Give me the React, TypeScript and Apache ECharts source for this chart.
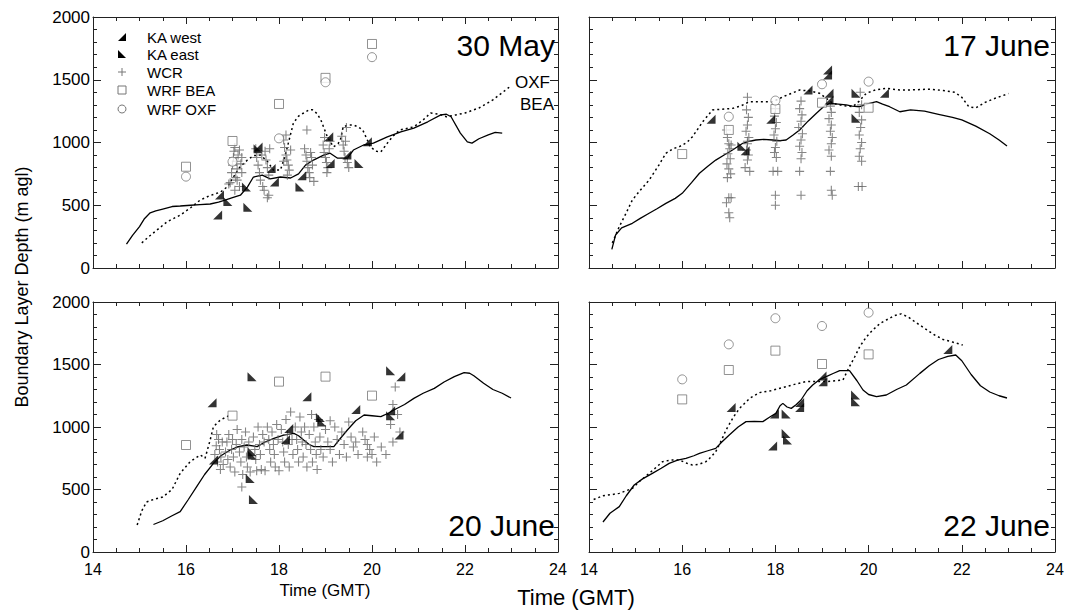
import React, { useEffect, useRef } from "react";
import * as echarts from "echarts";

const FONT = "'Liberation Sans', Arial, sans-serif";

// ---------- tick labels ----------
const xTicks = [14, 16, 18, 20, 22, 24];
const yTicks = [0, 500, 1000, 1500, 2000];
const panelTitles = ["30 May", "17 June", "20 June", "22 June"];

// ---------- 30 May ----------
const mayBEA = [[14.72,190],[14.85,260],[15.0,330],[15.1,390],[15.23,440],[15.35,455],[15.5,470],[15.7,490],[15.875,494],[16.1,500],[16.3,505],[16.52,510],[16.7,525],[16.84,540],[17.0,560],[17.17,580],[17.32,645],[17.45,725],[17.64,740],[17.81,710],[18.03,725],[18.25,717],[18.42,750],[18.57,820],[18.74,860],[18.96,900],[19.1,915],[19.26,875],[19.47,875],[19.6,940],[19.82,980],[20.03,995],[20.33,1045],[20.62,1085],[20.9,1115],[21.2,1165],[21.48,1220],[21.6,1225],[21.7,1205],[21.9,1075],[22.05,1005],[22.15,995],[22.3,1030],[22.5,1060],[22.65,1080],[22.8,1075]];
const mayOXF = [[15.05,200],[15.2,250],[15.4,310],[15.6,370],[15.87,420],[16.1,480],[16.3,540],[16.5,575],[16.74,605],[16.9,650],[17.02,725],[17.15,800],[17.32,860],[17.45,895],[17.6,900],[17.75,850],[17.88,780],[18.03,780],[18.12,880],[18.18,965],[18.31,1155],[18.42,1210],[18.53,1235],[18.65,1260],[18.72,1260],[18.82,1230],[18.9,1180],[19.04,1045],[19.17,965],[19.27,990],[19.32,1020],[19.38,1125],[19.5,1140],[19.6,1140],[19.7,1125],[19.8,1100],[19.9,1020],[19.96,965],[20.1,930],[20.19,925],[20.33,995],[20.45,1050],[20.6,1100],[20.9,1125],[21.1,1180],[21.26,1235],[21.45,1225],[21.6,1205],[21.8,1220],[22.0,1235],[22.3,1275],[22.6,1340],[22.95,1440]];
const mayKAWest = [[16.68,422],[16.72,582],[17.55,964],[17.83,792],[17.9,685],[18.49,735],[19.07,1045],[19.1,833],[19.46,900],[19.9,1005]];
const mayKAEast = [[16.9,530],[17.33,484],[17.3,645],[17.55,950],[18.45,645],[19.72,833]];
const mayWCR = [[16.95,680],[16.98,760],[17.0,820],[17.02,880],[17.03,930],[17.05,960],[17.07,720],[17.08,850],[17.1,790],[17.12,900],[17.15,940],[17.15,650],[17.18,830],[17.2,880],[17.2,760],[17.05,620],[16.92,670],[17.1,700],[17.5,950],[17.52,880],[17.55,820],[17.58,760],[17.6,700],[17.63,900],[17.65,650],[17.7,930],[17.72,860],[17.75,800],[17.78,740],[17.8,950],[17.78,580],[17.75,560],[17.68,620],[18.1,1020],[18.12,960],[18.15,900],[18.17,860],[18.2,820],[18.22,780],[18.15,1060],[18.25,940],[18.18,740],[18.1,850],[18.55,950],[18.58,900],[18.6,850],[18.62,800],[18.65,760],[18.68,920],[18.7,880],[18.72,820],[18.6,1100],[18.75,690],[18.66,720],[18.95,980],[18.97,920],[19.0,880],[19.02,840],[19.05,800],[19.08,950],[19.1,1010],[19.03,760],[18.98,1040],[19.35,1050],[19.38,980],[19.4,930],[19.42,880],[19.45,1120],[19.47,840],[19.5,800],[19.43,1010]];
const mayWrfBEA = [[16,807],[17,1012],[18,1307],[19,1515],[20,1785]];
const mayWrfOXF = [[16,728],[17,847],[18,1033],[19,1480],[20,1680]];

// ---------- 17 June ----------
const j17BEA = [[14.49,149],[14.57,263],[14.7,320],[14.93,356],[15.1,395],[15.29,436],[15.45,470],[15.65,515],[15.85,555],[16.0,595],[16.2,680],[16.37,755],[16.55,810],[16.72,860],[16.9,900],[17.08,940],[17.3,994],[17.45,1010],[17.58,1020],[17.75,1025],[17.94,1020],[18.1,1015],[18.23,1020],[18.38,1060],[18.52,1100],[18.7,1170],[18.88,1233],[19.05,1290],[19.16,1312],[19.35,1305],[19.52,1299],[19.65,1290],[19.81,1285],[20.0,1310],[20.17,1325],[20.3,1305],[20.45,1285],[20.67,1245],[20.9,1260],[21.2,1250],[21.5,1225],[21.8,1200],[22.0,1180],[22.3,1130],[22.6,1070],[22.8,1020],[22.97,972]];
const j17OXF = [[14.5,200],[14.65,330],[14.8,440],[14.93,542],[15.1,620],[15.29,701],[15.5,820],[15.65,914],[15.8,950],[15.94,967],[16.1,1000],[16.22,1046],[16.45,1170],[16.65,1259],[16.85,1265],[17.08,1272],[17.25,1290],[17.44,1325],[17.7,1325],[17.94,1325],[18.2,1370],[18.52,1418],[18.75,1410],[18.95,1392],[19.1,1350],[19.23,1312],[19.45,1295],[19.66,1285],[19.8,1330],[19.95,1392],[20.15,1420],[20.38,1432],[20.67,1418],[21.0,1420],[21.3,1425],[21.6,1415],[21.85,1400],[22.0,1360],[22.15,1285],[22.3,1275],[22.5,1320],[22.7,1350],[23.0,1390]];
const j17KAWest = [[16.62,1185],[17.35,935],[17.9,1185],[18.7,1418],[19.12,1578],[19.12,1538],[19.15,1392],[19.15,1339],[20.34,1392]];
const j17KAEast = [[17.28,970],[19.73,1392],[19.73,1193]];
const j17WCR = [[16.95,1100],[16.97,1040],[17.0,990],[17.02,950],[16.98,910],[17.03,870],[16.96,830],[17.0,790],[17.04,750],[16.97,720],[17.0,560],[16.95,520],[17.05,560],[17.0,440],[17.02,400],[17.05,980],[17.4,1360],[17.38,1260],[17.42,1200],[17.4,1140],[17.37,1090],[17.43,1040],[17.4,990],[17.38,940],[17.42,900],[17.4,860],[17.35,800],[17.45,770],[17.4,1010],[18.0,1270],[17.98,1210],[18.02,1160],[18.0,1110],[17.97,1060],[18.03,1010],[18.0,960],[17.98,920],[18.02,880],[17.95,770],[18.05,770],[18.0,580],[18.0,500],[18.55,1330],[18.52,1270],[18.57,1220],[18.55,1170],[18.5,1120],[18.58,1070],[18.55,1020],[18.52,970],[18.57,920],[18.55,870],[18.52,770],[18.55,580],[19.18,1290],[19.2,1240],[19.15,1190],[19.2,1140],[19.18,1090],[19.22,1040],[19.2,990],[19.15,940],[19.2,890],[19.18,770],[19.2,620],[19.22,580],[19.82,1400],[19.85,1300],[19.8,1240],[19.85,1180],[19.83,1120],[19.8,1060],[19.85,1000],[19.82,950],[19.8,890],[19.85,850],[19.78,650],[19.86,650]];
const j17WrfBEA = [[16,908],[17,1100],[18,1267],[19,1317],[20,1277]];
const j17WrfOXF = [[17,1206],[18,1334],[19,1464],[20,1485]];

// ---------- 20 June ----------
const j20BEA = [[15.3,220],[15.5,250],[15.7,290],[15.875,323],[16.05,420],[16.23,523],[16.4,620],[16.59,709],[16.75,770],[16.95,816],[17.1,840],[17.31,856],[17.53,843],[17.7,880],[17.89,909],[18.1,935],[18.32,949],[18.42,930],[18.53,896],[18.65,860],[18.75,843],[19.0,843],[19.18,843],[19.3,900],[19.47,976],[19.65,1050],[19.83,1096],[20.0,1090],[20.19,1083],[20.35,1110],[20.47,1136],[20.7,1180],[20.9,1229],[21.1,1270],[21.34,1309],[21.55,1360],[21.77,1403],[21.98,1435],[22.1,1430],[22.19,1410],[22.4,1350],[22.6,1300],[22.8,1270],[22.99,1232]];
const j20OXF = [[14.95,216],[15.05,330],[15.15,400],[15.3,420],[15.5,440],[15.7,500],[15.875,630],[16.09,723],[16.31,776],[16.41,750],[16.52,896],[16.59,1003],[16.74,1056],[16.95,1096]];
const j20KAWest = [[16.56,1195],[18.6,1243],[19.65,1141],[20.62,1403],[20.4,1131],[20.58,936],[18.21,989],[18.14,900],[16.59,736]];
const j20KAEast = [[17.42,1403],[20.4,1451],[20.4,1090],[18.89,1077],[18.92,1040],[17.42,803],[17.42,776],[17.38,589],[17.45,421]];
const j20WCR = [[16.62,780],[16.65,850],[16.68,720],[16.7,900],[16.72,820],[16.75,760],[16.78,880],[16.8,700],[16.66,940],[16.74,660],[16.85,800],[16.88,880],[16.9,740],[16.92,940],[16.95,680],[16.98,820],[17.0,900],[17.02,760],[17.05,640],[17.08,860],[17.1,980],[17.15,800],[17.18,720],[17.2,900],[17.22,620],[17.25,840],[17.28,960],[17.3,760],[17.32,680],[17.35,880],[17.38,640],[17.2,520],[17.45,920],[17.48,820],[17.5,740],[17.52,650],[17.55,1000],[17.58,860],[17.6,780],[17.62,660],[17.65,940],[17.68,880],[17.7,650],[17.75,1000],[17.78,900],[17.8,820],[17.82,720],[17.85,960],[17.88,860],[17.9,780],[17.92,680],[17.95,1020],[17.98,900],[18.0,650],[18.05,980],[18.08,880],[18.1,800],[18.12,720],[18.15,1060],[18.18,940],[18.2,860],[18.22,680],[18.25,1120],[18.28,900],[18.3,780],[18.35,1000],[18.38,900],[18.4,820],[18.42,720],[18.45,1080],[18.48,960],[18.5,880],[18.52,760],[18.55,1000],[18.58,860],[18.6,680],[18.65,940],[18.68,820],[18.7,1100],[18.72,720],[18.75,1000],[18.78,880],[18.8,780],[18.82,660],[18.85,1060],[18.88,920],[18.9,820],[18.95,760],[19.0,980],[19.05,880],[19.1,820],[19.15,720],[19.2,1000],[19.25,900],[19.3,780],[19.1,1050],[19.35,960],[19.4,860],[19.45,760],[19.5,1040],[19.55,920],[19.6,840],[19.65,880],[19.7,780],[19.8,960],[19.85,900],[19.9,860],[19.95,820],[20.0,780],[20.05,920],[19.9,760],[20.1,720],[20.2,840],[20.3,780],[20.4,1020],[20.45,1180],[20.5,1320],[20.55,1100],[20.6,960],[20.45,880]];
const j20WrfBEA = [[16,856],[17,1091],[18,1363],[19,1403],[20,1251]];
const j20WrfOXF: number[][] = [];

// ---------- 22 June ----------
const j22BEA = [[14.3,240],[14.45,310],[14.65,363],[14.8,450],[14.97,536],[15.15,585],[15.36,629],[15.55,670],[15.72,709],[15.9,735],[16.08,749],[16.25,770],[16.37,789],[16.55,810],[16.72,829],[16.85,880],[17.01,936],[17.2,1000],[17.37,1043],[17.55,1045],[17.73,1043],[17.88,1080],[18.01,1109],[18.1,1170],[18.16,1189],[18.25,1160],[18.34,1149],[18.45,1180],[18.55,1216],[18.68,1290],[18.8,1336],[18.95,1380],[19.09,1403],[19.25,1430],[19.38,1451],[19.59,1451],[19.75,1370],[19.88,1296],[20.0,1260],[20.17,1243],[20.38,1256],[20.6,1300],[20.81,1336],[21.1,1429],[21.3,1490],[21.5,1540],[21.7,1565],[21.87,1576],[22.0,1530],[22.2,1420],[22.4,1330],[22.6,1280],[22.8,1250],[22.97,1232]];
const j22OXF = [[14.1,420],[14.3,450],[14.5,460],[14.65,469],[14.93,509],[15.1,570],[15.29,629],[15.45,680],[15.58,723],[15.75,735],[15.94,736],[16.1,710],[16.22,696],[16.35,700],[16.51,723],[16.62,760],[16.72,803],[16.85,900],[16.94,976],[17.1,1080],[17.23,1149],[17.45,1230],[17.66,1275],[17.9,1290],[18.23,1323],[18.45,1345],[18.66,1363],[18.85,1365],[19.09,1363],[19.3,1370],[19.45,1376],[19.52,1430],[19.59,1483],[19.7,1560],[19.81,1643],[19.95,1720],[20.09,1776],[20.25,1830],[20.38,1856],[20.55,1890],[20.7,1905],[20.85,1880],[21.0,1840],[21.2,1790],[21.4,1740],[21.6,1700],[21.8,1680],[22.02,1656]];
const j22KAWest = [[17.05,1157],[17.94,848],[17.98,1104],[18.52,1157],[18.52,1197],[19.0,1408],[19.02,1363],[21.7,1620]];
const j22KAEast = [[18.23,1104],[18.23,949],[18.26,896],[19.72,1256],[19.72,1203]];
const j22WCR: number[][] = [];
const j22WrfBEA = [[16,1221],[17,1456],[18,1611],[19,1504],[20,1581]];
const j22WrfOXF = [[16,1381],[17,1661],[18,1870],[19,1808],[20,1915]];

const panels = [
  { bea: mayBEA, oxf: mayOXF, kaw: mayKAWest, kae: mayKAEast, wcr: mayWCR, wb: mayWrfBEA, wo: mayWrfOXF },
  { bea: j17BEA, oxf: j17OXF, kaw: j17KAWest, kae: j17KAEast, wcr: j17WCR, wb: j17WrfBEA, wo: j17WrfOXF },
  { bea: j20BEA, oxf: j20OXF, kaw: j20KAWest, kae: j20KAEast, wcr: j20WCR, wb: j20WrfBEA, wo: j20WrfOXF },
  { bea: j22BEA, oxf: j22OXF, kaw: j22KAWest, kae: j22KAEast, wcr: j22WCR, wb: j22WrfBEA, wo: j22WrfOXF },
];

const grids = [
  { left: 93, top: 17, width: 465, height: 251 },
  { left: 589, top: 17, width: 466, height: 251 },
  { left: 93, top: 302, width: 465, height: 250 },
  { left: 589, top: 302, width: 466, height: 250 },
];

const AX = "#222";
const WEST = "path://M10,0L10,10L0,10Z";
const EAST = "path://M0,0L0,10L10,10Z";
const PLUS = "path://M4.4,0H5.6V4.4H10V5.6H5.6V10H4.4V5.6H0V4.4H4.4Z";

function buildOption() {
  const xAxis: any[] = [];
  const yAxis: any[] = [];
  const series: any[] = [];
  grids.forEach((g, i) => {
    ["bottom", "top"].forEach((pos) => {
      xAxis.push({
        type: "value", gridIndex: i, position: pos,
        min: xTicks[0], max: xTicks[xTicks.length - 1], interval: xTicks[1] - xTicks[0],
        axisLine: { show: true, onZero: false, lineStyle: { color: AX, width: 1 } },
        axisTick: { show: true, inside: true, length: 7, lineStyle: { color: AX } },
        minorTick: { show: true, splitNumber: 4, length: 4, lineStyle: { color: AX } },
        splitLine: { show: false },
        axisLabel: { show: pos === "bottom" && i >= 2, fontSize: 16, color: "#000", margin: 9, fontFamily: FONT,
          formatter: (v: number) => String(v) },
      });
    });
    ["left", "right"].forEach((pos) => {
      yAxis.push({
        type: "value", gridIndex: i, position: pos,
        min: yTicks[0], max: yTicks[yTicks.length - 1], interval: yTicks[1] - yTicks[0],
        axisLine: { show: true, onZero: false, lineStyle: { color: AX, width: 1 } },
        axisTick: { show: true, inside: true, length: 8, lineStyle: { color: AX } },
        minorTick: { show: true, splitNumber: 5, length: 4, lineStyle: { color: AX } },
        splitLine: { show: false },
        axisLabel: { show: pos === "left" && i % 2 === 0, fontSize: 17, color: "#000", margin: 3, fontFamily: FONT,
          formatter: (v: number) => String(v) },
      });
    });
    const p = panels[i];
    const ax = { xAxisIndex: 2 * i, yAxisIndex: 2 * i };
    series.push({ ...ax, type: "line", name: "BEA", data: p.bea, showSymbol: false, z: 2,
      lineStyle: { color: "#000", width: 1.3 } });
    series.push({ ...ax, type: "line", name: "OXF", data: p.oxf, showSymbol: false, z: 2,
      lineStyle: { color: "#000", width: 1.5, type: [2, 3] } });
    series.push({ ...ax, type: "scatter", name: "WCR", data: p.wcr, symbol: PLUS, symbolSize: 9, z: 3,
      itemStyle: { color: "#666" } });
    series.push({ ...ax, type: "scatter", name: "WRF BEA", data: p.wb, symbol: "rect", symbolSize: 9, z: 4,
      itemStyle: { color: "#fff", borderColor: "#777", borderWidth: 1 } });
    series.push({ ...ax, type: "scatter", name: "WRF OXF", data: p.wo, symbol: "circle", symbolSize: 9, z: 4,
      itemStyle: { color: "#fff", borderColor: "#777", borderWidth: 1 } });
    series.push({ ...ax, type: "scatter", name: "KA west", data: p.kaw, symbol: WEST, symbolSize: 9, z: 5,
      itemStyle: { color: "#000" } });
    series.push({ ...ax, type: "scatter", name: "KA east", data: p.kae, symbol: EAST, symbolSize: 9, z: 5,
      itemStyle: { color: "#000" } });
  });

  const txt = (text: string, x: number, y: number, size: number, align = "left", extra: any = {}) => ({
    type: "text", x, y, z: 10, ...extra,
    style: { text, fontSize: size, fontFamily: FONT, fill: "#000", align, textAlign: align,
      verticalAlign: "middle", textVerticalAlign: "middle" },
  });

  const legendRows = [37, 54, 72, 90, 109];
  const lx = 122;
  const graphic: any[] = [
    { type: "polygon", z: 10, shape: { points: [[lx + 4, legendRows[0] - 4], [lx + 4, legendRows[0] + 4], [lx - 4, legendRows[0] + 4]] }, style: { fill: "#000" } },
    { type: "polygon", z: 10, shape: { points: [[lx - 4, legendRows[1] - 4], [lx - 4, legendRows[1] + 4], [lx + 4, legendRows[1] + 4]] }, style: { fill: "#000" } },
    { type: "line", z: 10, shape: { x1: lx - 4, y1: legendRows[2], x2: lx + 4, y2: legendRows[2] }, style: { stroke: "#777", lineWidth: 1 } },
    { type: "line", z: 10, shape: { x1: lx, y1: legendRows[2] - 4, x2: lx, y2: legendRows[2] + 4 }, style: { stroke: "#777", lineWidth: 1 } },
    { type: "rect", z: 10, shape: { x: lx - 4, y: legendRows[3] - 4, width: 8, height: 8 }, style: { fill: "#fff", stroke: "#777", lineWidth: 1 } },
    { type: "circle", z: 10, shape: { cx: lx, cy: legendRows[4], r: 4 }, style: { fill: "#fff", stroke: "#777", lineWidth: 1 } },
    txt("KA west", 147, legendRows[0], 15),
    txt("KA east", 147, legendRows[1], 15),
    txt("WCR", 147, legendRows[2], 15),
    txt("WRF BEA", 147, legendRows[3], 15),
    txt("WRF OXF", 147, legendRows[4], 15),
    txt(panelTitles[0], 555, 45, 30, "right"),
    txt(panelTitles[1], 1050, 45, 30, "right"),
    txt(panelTitles[2], 555, 525, 30, "right"),
    txt(panelTitles[3], 1050, 525, 30, "right"),
    txt("OXF", 515, 82, 17),
    txt("BEA", 520, 104, 17),
    txt("Boundary Layer Depth (m agl)", 22, 287, 18, "center", { rotation: Math.PI / 2 }),
    txt("Time (GMT)", 325, 590, 17, "center"),
    txt("Time (GMT)", 576, 597, 22, "center"),
  ];

  return {
    animation: false,
    backgroundColor: "#fff",
    grid: grids.map((g) => ({ ...g, containLabel: false })),
    xAxis, yAxis, series, graphic,
  };
}

export default function App() {
  const ref = useRef<HTMLDivElement>(null);
  useEffect(() => {
    const chart = echarts.init(ref.current!, null, { renderer: "svg" });
    chart.setOption(buildOption() as any);
    return () => chart.dispose();
  }, []);
  return (
    <div
      ref={ref}
      style={{ position: "absolute", left: 0, top: 0, width: 1067, height: 611, background: "#fff" }}
    />
  );
}
